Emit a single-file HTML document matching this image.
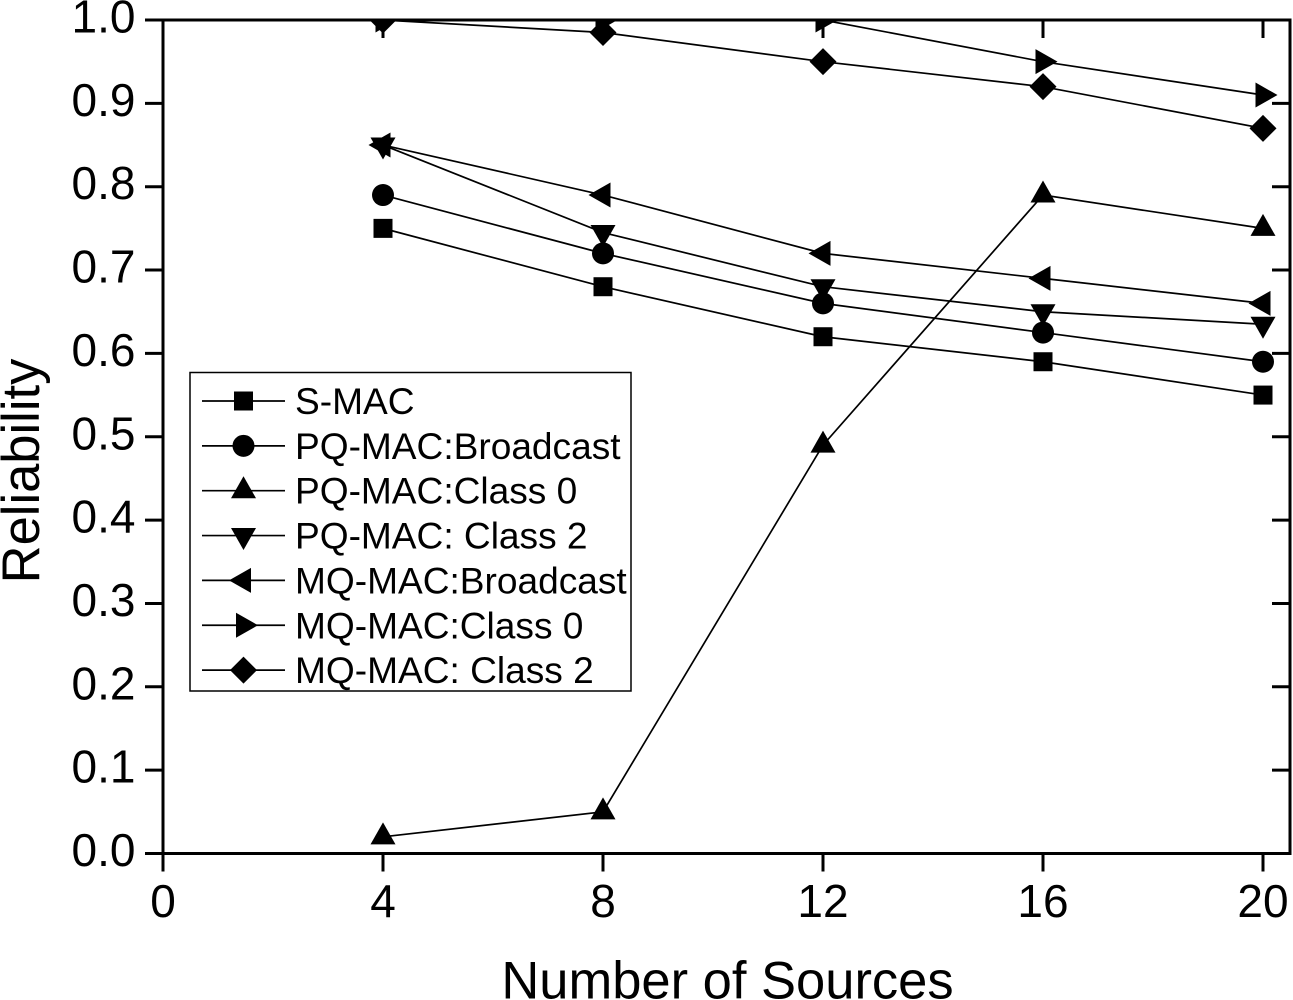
<!DOCTYPE html>
<html lang="en">
<head>
<meta charset="utf-8">
<title>Reliability vs Number of Sources</title>
<style>
  html, body { margin: 0; padding: 0; background: #fff; }
  body { width: 1293px; height: 1000px; overflow: hidden; }
  svg { display: block; }
  text { font-family: "Liberation Sans", Arial, sans-serif; fill: #000; }
</style>
</head>
<body>
<svg id="chart" xmlns="http://www.w3.org/2000/svg" width="1293" height="1000" viewBox="0 0 1293 1000">
  <defs>
    <clipPath id="plot-clip"><rect x="163" y="20" width="1127" height="833.5"></rect></clipPath>
  </defs>
  <g id="series-layer" clip-path="url(#plot-clip)"></g>
  <g id="axes-layer"></g>
  <g id="legend-layer"></g>
</svg>
<script>
const categories = [4, 8, 12, 16, 20];
const sMac = [0.75, 0.68, 0.62, 0.59, 0.55];
const pqBroadcast = [0.79, 0.72, 0.66, 0.625, 0.59];
const pqClass0 = [0.02, 0.05, 0.49, 0.79, 0.75];
const pqClass2 = [0.85, 0.745, 0.68, 0.65, 0.635];
const mqBroadcast = [0.85, 0.79, 0.72, 0.69, 0.66];
const mqClass0 = [1.0, 1.0, 1.0, 0.95, 0.91];
const mqClass2 = [1.0, 0.985, 0.95, 0.92, 0.87];
const seriesLabels = ["S-MAC", "PQ-MAC:Broadcast", "PQ-MAC:Class 0", "PQ-MAC: Class 2", "MQ-MAC:Broadcast", "MQ-MAC:Class 0", "MQ-MAC: Class 2"];
const seriesMarkers = ["square", "circle", "up", "down", "left", "right", "diamond"];
const seriesValues = [sMac, pqBroadcast, pqClass0, pqClass2, mqBroadcast, mqClass0, mqClass2];
const xTicks = [0, 4, 8, 12, 16, 20];
const yTicks = ["0.0", "0.1", "0.2", "0.3", "0.4", "0.5", "0.6", "0.7", "0.8", "0.9", "1.0"];
const xTitle = "Number of Sources";
const yTitle = "Reliability";

const NS = "http://www.w3.org/2000/svg";
const X0 = 163, XPX = 55, XEND = 1290;
const Y0 = 853.5, YTOP = 20;
const sx = function (v) { return X0 + v * XPX; };
const sy = function (v) { return Y0 - v * (Y0 - YTOP); };

function make(parent, tag, props, content) {
  const el = document.createElementNS(NS, tag);
  Object.keys(props).forEach(function (k) { el.setAttribute(k, props[k]); });
  if (content !== undefined) el.textContent = content;
  parent.appendChild(el);
  return el;
}

function marker(parent, kind, x, y) {
  if (kind === "square") return make(parent, "rect", { x: x - 9.5, y: y - 9.5, width: 19, height: 19, fill: "#000" });
  if (kind === "circle") return make(parent, "circle", { cx: x, cy: y, r: 11, fill: "#000" });
  const shapes = {
    up: [[0, -14.5], [12.5, 7.5], [-12.5, 7.5]],
    down: [[0, 14.5], [12.5, -7.5], [-12.5, -7.5]],
    left: [[-14.5, 0], [7.5, -12.5], [7.5, 12.5]],
    right: [[14.5, 0], [-7.5, -12.5], [-7.5, 12.5]],
    diamond: [[0, -13.5], [13.5, 0], [0, 13.5], [-13.5, 0]]
  };
  const pts = shapes[kind].map(function (p) { return (x + p[0]) + "," + (y + p[1]); }).join(" ");
  return make(parent, "polygon", { points: pts, fill: "#000" });
}

function label(parent, str, x, y, size, anchor, stretch) {
  return make(parent, "text", {
    transform: "translate(" + x + "," + y + ") scale(" + stretch + ",1)",
    "font-size": size,
    "text-anchor": anchor
  }, str);
}

/* series */
const seriesLayer = document.getElementById("series-layer");
seriesValues.forEach(function (values, i) {
  const g = make(seriesLayer, "g", {});
  
  
  const pts = values.map(function (v, j) { return sx(categories[j]) + "," + sy(v); }).join(" ");
  const line = make(g, "polyline", { points: pts, fill: "none", stroke: "#000", "stroke-width": 1.7 });
  
  
  values.forEach(function (v, j) {
    const m = marker(g, seriesMarkers[i], sx(categories[j]), sy(v));
    
    
  });
});

/* axes */
const axes = document.getElementById("axes-layer");
const frame = make(axes, "rect", { x: X0, y: YTOP, width: XEND - X0, height: Y0 - YTOP, fill: "none", stroke: "#000", "stroke-width": 3 });



xTicks.forEach(function (t) {
  const x = sx(t);
  const bottom = make(axes, "line", { x1: x, x2: x, y1: Y0, y2: Y0 + 18, stroke: "#000", "stroke-width": 3 });
  
  
  const top = make(axes, "line", { x1: x, x2: x, y1: YTOP, y2: YTOP + 18, stroke: "#000", "stroke-width": 3 });
  
  
  const txt = label(axes, String(t), x, 917, 46, "middle", 1);
  
  
});

yTicks.forEach(function (t) {
  const y = sy(parseFloat(t));
  const left = make(axes, "line", { x1: X0 - 18, x2: X0, y1: y, y2: y, stroke: "#000", "stroke-width": 3 });
  
  
  const right = make(axes, "line", { x1: XEND - 18, x2: XEND, y1: y, y2: y, stroke: "#000", "stroke-width": 3 });
  
  
  const txt = label(axes, t, 135.5, y + 12.5, 46, "end", 1);
  
  
});

const xt = label(axes, xTitle, 727.5, 998.5, 52.5, "middle", 1);



const yt = make(axes, "text", { transform: "translate(39,471) rotate(-90)", "font-size": 52.5, "text-anchor": "middle" }, yTitle);



/* legend */
const legend = document.getElementById("legend-layer");
const box = make(legend, "rect", { x: 190, y: 372.5, width: 441, height: 318.5, fill: "#fff", stroke: "#000", "stroke-width": 1.5 });



seriesLabels.forEach(function (name, i) {
  const y = 401 + i * 44.85;
  const g = make(legend, "g", {});
  
  
  const sample = make(g, "line", { x1: 202, x2: 285, y1: y, y2: y, stroke: "#000", "stroke-width": 1.7 });
  
  
  const m = marker(g, seriesMarkers[i], 243.5, y);
  
  
  const txt = label(g, name, 295, y + 13, 37.1, "start", 1);
  
  
});
</script>
</body>
</html>
